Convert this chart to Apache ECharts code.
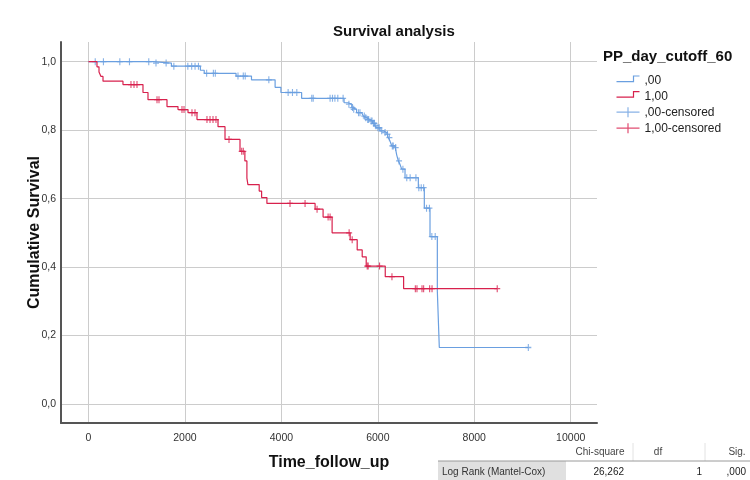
<!DOCTYPE html>
<html>
<head>
<meta charset="utf-8">
<script src="https://cdn.jsdelivr.net/npm/echarts@6/dist/echarts.min.js"></script>
<style>
  html, body { margin: 0; padding: 0; background: #fff; }
  #chart { width: 750px; height: 480px; }
</style>
</head>
<body>
<div id="chart"></div>
<script>
  // group ,00 : step points (time, cumulative survival)
  const blueTime = [0, 1340, 1720, 2320, 2400, 3060, 3380, 3870, 3990, 4420, 5300, 5380, 5460, 5490, 5560, 5666, 5699, 5734, 5769, 5838, 5890, 5941, 5977, 6045, 6114, 6184, 6217, 6253, 6288, 6356, 6391, 6425, 6460, 6495, 6564, 6840, 6964, 7082, 7234, 7275, 9121]
  const blueSurv = [1.0, 0.996, 0.987, 0.975, 0.966, 0.958, 0.947, 0.925, 0.91, 0.893, 0.88, 0.876, 0.866, 0.861, 0.851, 0.846, 0.841, 0.836, 0.831, 0.827, 0.82, 0.813, 0.807, 0.798, 0.793, 0.788, 0.778, 0.768, 0.754, 0.749, 0.728, 0.71, 0.7, 0.686, 0.661, 0.632, 0.572, 0.489, 0.33, 0.165, 0.165]
  // group ,00 : censored times
  const blueCens = [140, 310, 650, 850, 1250, 1400, 1610, 1770, 2060, 2140, 2210, 2280, 2450, 2590, 2630, 3100, 3210, 3250, 3740, 4140, 4230, 4320, 4630, 4660, 5010, 5060, 5110, 5170, 5280, 5400, 5475, 5500, 5600, 5630, 5720, 5750, 5790, 5810, 5860, 5880, 5910, 5930, 5960, 6000, 6030, 6080, 6150, 6200, 6240, 6300, 6320, 6370, 6440, 6520, 6600, 6670, 6790, 6850, 6900, 6950, 7010, 7070, 7120, 7190, 9121]

  // group 1,00
  const redTime = [0, 176, 218, 259, 301, 715, 1130, 1234, 1628, 1856, 2064, 2250, 2686, 2831, 3142, 3243, 3285, 3306, 3540, 3590, 3700, 4699, 4865, 5052, 5426, 5572, 5676, 5759, 6154, 6535, 8476]
  const redSurv = [1.0, 0.985, 0.97, 0.957, 0.943, 0.933, 0.91, 0.889, 0.869, 0.86, 0.851, 0.831, 0.81, 0.773, 0.738, 0.71, 0.66, 0.641, 0.622, 0.603, 0.586, 0.569, 0.546, 0.5, 0.48, 0.45, 0.43, 0.403, 0.372, 0.337, 0.337]
  const redCens = [881, 944, 1006, 1421, 1462, 1939, 1981, 2146, 2209, 2457, 2520, 2582, 2644, 2914, 3177, 3210, 4179, 4491, 4740, 4969, 5010, 5405, 5468, 5780, 5800, 6036, 6293, 6778, 6812, 6916, 6950, 7075, 7124, 8476]

  const xTicks = [0, 2000, 4000, 6000, 8000, 10000]
  const yTicks = [0, 0.2, 0.4, 0.6, 0.8, 1.0]

  const blue = '#6a9fe0'
  const red = '#d8214d'
  const font = 'Liberation Sans, Arial, sans-serif'

  // value of the step curve at time t
  const survAt = (times, surv, t) => {
    let s = surv[0]
    times.forEach((v, i) => {
      if (v <= t) s = surv[i]
    })
    return s
  }
  const zip = (a, b) => a.map((v, i) => [v, b[i]])

  const stepIcon = 'path://M0,6 H17 V0.4 H23 M0,10'
  const plusIcon = 'path://M0,5 H23 M11.5,0 V10'
  const plusSym = 'path://M5,0 V10 M0,5 H10'

  const myChart = echarts.init(document.getElementById('chart'))
  const option = {
    animation: false,
    backgroundColor: '#fff',
    title: [
      {
        text: 'Survival analysis',
        left: 333,
        top: 24,
        padding: 0,
        textStyle: { fontSize: 15, fontWeight: 'bold', color: '#111', fontFamily: font }
      },
      {
        text: 'PP_day_cutoff_60',
        left: 603,
        top: 49,
        padding: 0,
        textStyle: { fontSize: 15, fontWeight: 'bold', color: '#111', fontFamily: font }
      }
    ],
    legend: {
      orient: 'vertical',
      left: 614,
      top: 73.5,
      padding: 0,
      itemWidth: 23,
      itemHeight: 10,
      itemGap: 1,
      textStyle: { fontSize: 12, color: '#222', fontFamily: font },
      data: [
        { name: ',00', icon: stepIcon, itemStyle: { color: 'none', borderColor: blue, borderWidth: 1.2 } },
        { name: '1,00', icon: stepIcon, itemStyle: { color: 'none', borderColor: red, borderWidth: 1.2 } },
        { name: ',00-censored', icon: plusIcon, itemStyle: { color: 'none', borderColor: blue, borderWidth: 1.2 } },
        { name: '1,00-censored', icon: plusIcon, itemStyle: { color: 'none', borderColor: red, borderWidth: 1.2 } }
      ]
    },
    grid: {
      left: 61,
      right: 153,
      top: 42,
      bottom: 57
    },
    xAxis: {
      type: 'value',
      min: -570,
      max: 10545,
      name: 'Time_follow_up',
      nameLocation: 'middle',
      nameGap: 32,
      nameMoveOverlap: false,
      nameTextStyle: { fontSize: 16, fontWeight: 'bold', color: '#111', fontFamily: font },
      axisLine: { show: true, onZero: false, lineStyle: { color: '#555', width: 2 } },
      axisTick: { show: false, customValues: xTicks },
      axisLabel: {
        customValues: xTicks,
        color: '#333',
        fontSize: 10.5,
        margin: 10,
        fontFamily: font,
        formatter: (v) => String(v)
      },
      splitLine: { show: true, lineStyle: { color: '#cccccc', width: 1 } }
    },
    yAxis: {
      type: 'value',
      min: -0.0555,
      max: 1.0575,
      name: 'Cumulative Survival',
      nameLocation: 'middle',
      nameGap: 18,
      nameMoveOverlap: false,
      nameTextStyle: { fontSize: 16, fontWeight: 'bold', color: '#111', fontFamily: font },
      axisLine: { show: true, onZero: false, lineStyle: { color: '#555', width: 2 } },
      axisTick: { show: false, customValues: yTicks },
      axisLabel: {
        customValues: yTicks,
        color: '#333',
        fontSize: 10.5,
        margin: 5,
        fontFamily: font,
        formatter: (v) => v.toFixed(1).replace('.', ',')
      },
      splitLine: { show: true, lineStyle: { color: '#cccccc', width: 1 } }
    },
    series: [
      {
        name: ',00',
        type: 'line',
        step: 'end',
        showSymbol: false,
        data: zip(blueTime, blueSurv),
        itemStyle: { color: blue },
        lineStyle: { color: blue, width: 1.2 },
        z: 3
      },
      {
        name: '1,00',
        type: 'line',
        step: 'end',
        showSymbol: false,
        data: zip(redTime, redSurv),
        itemStyle: { color: red },
        lineStyle: { color: red, width: 1.2 },
        z: 4
      },
      {
        name: ',00-censored',
        type: 'scatter',
        symbol: plusSym,
        symbolSize: [6, 7],
        data: blueCens.map((t) => [t, survAt(blueTime, blueSurv, t)]),
        itemStyle: { color: blue, borderColor: blue, borderWidth: 1.2 },
        z: 3
      },
      {
        name: '1,00-censored',
        type: 'scatter',
        symbol: plusSym,
        symbolSize: [6, 7],
        data: redCens.map((t) => [t, survAt(redTime, redSurv, t)]),
        itemStyle: { color: red, borderColor: red, borderWidth: 1.2 },
        z: 4
      }
    ],
    // log rank test table below the legend
    graphic: [
      { type: 'line', shape: { x1: 633, y1: 443, x2: 633, y2: 461 }, style: { stroke: '#e2e2e2', lineWidth: 1 } },
      { type: 'line', shape: { x1: 705, y1: 443, x2: 705, y2: 461 }, style: { stroke: '#e2e2e2', lineWidth: 1 } },
      { type: 'rect', shape: { x: 438, y: 461, width: 128, height: 21 }, style: { fill: '#e0e0e0' } },
      { type: 'line', shape: { x1: 438, y1: 461, x2: 750, y2: 461 }, style: { stroke: '#9a9a9a', lineWidth: 1 } },
      { type: 'text', style: { text: 'Chi-square', x: 600, y: 452, align: 'center', verticalAlign: 'middle', fontSize: 10, fill: '#444', fontFamily: font } },
      { type: 'text', style: { text: 'df', x: 658, y: 452, align: 'center', verticalAlign: 'middle', fontSize: 10, fill: '#444', fontFamily: font } },
      { type: 'text', style: { text: 'Sig.', x: 737, y: 452, align: 'center', verticalAlign: 'middle', fontSize: 10, fill: '#444', fontFamily: font } },
      { type: 'text', style: { text: 'Log Rank (Mantel-Cox)', x: 442, y: 472, align: 'left', verticalAlign: 'middle', fontSize: 10, fill: '#333', fontFamily: font } },
      { type: 'text', style: { text: '26,262', x: 624, y: 472, align: 'right', verticalAlign: 'middle', fontSize: 10, fill: '#222', fontFamily: font } },
      { type: 'text', style: { text: '1', x: 702, y: 472, align: 'right', verticalAlign: 'middle', fontSize: 10, fill: '#222', fontFamily: font } },
      { type: 'text', style: { text: ',000', x: 746, y: 472, align: 'right', verticalAlign: 'middle', fontSize: 10, fill: '#222', fontFamily: font } }
    ]
  }
  myChart.setOption(option)
</script>
</body>
</html>
